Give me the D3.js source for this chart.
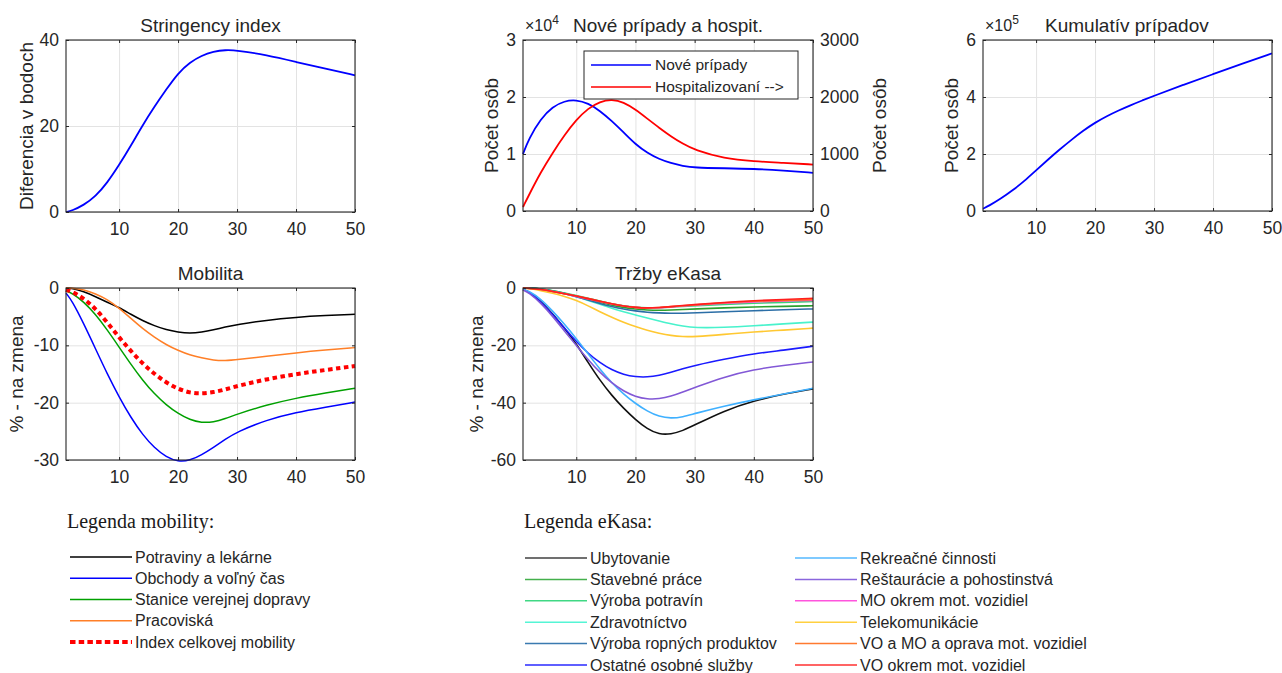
<!DOCTYPE html>
<html>
<head>
<meta charset="utf-8">
<script src="https://cdn.jsdelivr.net/npm/d3@7"></script>
</head>
<body style='margin: 0; background-color: #ffffff;'>

<svg id='chart'></svg>

<script>
// common day grid for every series
var days = [1, 2, 4, 6, 8, 10, 12, 14, 16, 18, 20, 22, 24, 26, 28, 30, 35, 40, 45, 50];
var xTicks = [10, 20, 30, 40, 50];

var stringency = [0, 0.3, 1.6, 3.6, 6.8, 10.9, 15.4, 20.2, 24.5, 28.5, 32.3, 34.8, 36.4, 37.3, 37.7, 37.6, 36.5, 34.9, 33.3, 31.8];

// x10^4
var novePripady = [1.0, 1.27, 1.62, 1.83, 1.93, 1.95, 1.89, 1.76, 1.58, 1.38, 1.17, 1.02, 0.91, 0.84, 0.79, 0.76, 0.75, 0.74, 0.71, 0.67];
var hospitalizovani = [70, 280, 680, 1020, 1330, 1600, 1800, 1920, 1960, 1910, 1780, 1620, 1460, 1310, 1180, 1070, 920, 870, 845, 815];

// x10^5
var kumulativ = [0.08, 0.18, 0.43, 0.72, 1.05, 1.43, 1.8, 2.16, 2.5, 2.82, 3.1, 3.33, 3.53, 3.71, 3.88, 4.04, 4.43, 4.8, 5.17, 5.53];

var mobPotraviny = [0, -0.05, -0.6, -1.5, -2.5, -3.4, -4.6, -5.7, -6.6, -7.3, -7.7, -7.9, -7.7, -7.3, -6.8, -6.4, -5.6, -5.1, -4.8, -4.6];
var mobObchody = [-0.9, -2.2, -6.2, -10.6, -15, -19, -22.6, -25.6, -27.9, -29.5, -30.3, -30.1, -29.1, -27.8, -26.4, -25.1, -23, -21.7, -20.8, -19.9];
var mobStanice = [-0.5, -0.9, -2.4, -4.6, -7.3, -10.3, -13.3, -16.1, -18.5, -20.4, -21.9, -23, -23.5, -23.4, -22.8, -22, -20.4, -19.2, -18.3, -17.5];
var mobPracoviska = [0, 0, -0.3, -1.0, -2.0, -3.5, -5.3, -7.1, -8.6, -9.9, -10.9, -11.7, -12.2, -12.6, -12.7, -12.5, -11.9, -11.3, -10.8, -10.4];
var mobIndex = [-0.3, -0.6, -1.8, -3.6, -6, -8.6, -11, -13.2, -15, -16.5, -17.6, -18.3, -18.4, -18.2, -17.7, -17.1, -15.9, -15, -14.3, -13.6];

var mobNames = ['Potraviny a lekárne', 'Obchody a voľný čas', 'Stanice verejnej dopravy', 'Pracoviská', 'Index celkovej mobility'];
var mobColors = ['#000000', '#0000ff', '#00a000', '#ff7f27', '#ff0000'];

var kUbytovanie = [-0.5, -1.2, -4.5, -9, -14, -19.4, -26, -32.2, -37.5, -42, -45.9, -49.2, -51.1, -51, -49.8, -47.8, -42.8, -39.3, -37, -35.2];
var kStavebne = [0, 0, -0.3, -0.9, -1.8, -2.8, -3.9, -5, -6, -6.8, -7.4, -7.7, -7.8, -7.7, -7.5, -7.3, -6.9, -6.6, -6.4, -6.2];
var kPotraviny = [0, 0, -0.3, -0.9, -1.7, -2.6, -3.6, -4.6, -5.5, -6.2, -6.7, -6.9, -6.9, -6.7, -6.4, -6.2, -5.7, -5.3, -5, -4.7];
var kZdravotnictvo = [0, -0.1, -0.6, -1.2, -2, -3, -4.3, -5.7, -7.1, -8.3, -9.4, -10.5, -11.5, -12.5, -13.3, -13.9, -13.8, -13.2, -12.5, -11.9];
var kRopne = [0, 0, -0.3, -1, -1.9, -3, -4.2, -5.4, -6.5, -7.4, -8, -8.5, -8.7, -8.8, -8.8, -8.7, -8.3, -7.9, -7.6, -7.3];
var kOstatne = [-0.5, -1.3, -4.8, -9.2, -14, -18.7, -22.8, -26.1, -28.6, -30.2, -31, -31.1, -30.5, -29.4, -28.2, -27, -24.8, -22.9, -21.7, -20.3];
var kRekreacne = [-0.5, -1.0, -3.8, -8, -12.6, -17.6, -23, -28.3, -33.1, -37, -40.3, -43, -44.9, -45.5, -45, -43.8, -41.2, -39, -37, -35];
var kRestauracie = [-0.7, -1.6, -5.2, -9.8, -15, -20, -25, -29.5, -33.2, -36, -37.9, -38.8, -38.7, -37.8, -36.3, -34.7, -31, -28.4, -27, -25.8];
var kMO = [0, -0.1, -0.5, -1.2, -2, -2.9, -3.8, -4.7, -5.6, -6.3, -6.8, -7, -6.9, -6.6, -6.3, -6, -5.3, -4.8, -4.5, -4.3];
var kTelekom = [0, -0.2, -0.9, -1.8, -2.9, -4.3, -6.2, -8.3, -10.2, -12, -13.5, -14.8, -15.8, -16.6, -17, -17, -16.2, -15.3, -14.7, -14];
var kVOMO = [0, -0.1, -0.5, -1.2, -2, -2.8, -3.7, -4.6, -5.5, -6.3, -6.8, -7, -6.8, -6.5, -6.2, -5.9, -5.1, -4.6, -4.3, -4.0];
var kVO = [0, -0.1, -0.5, -1.2, -2, -2.8, -3.7, -4.6, -5.5, -6.3, -6.8, -7, -6.8, -6.5, -6.1, -5.8, -5, -4.4, -4, -3.6];

var kasaNames = ['Ubytovanie', 'Stavebné práce', 'Výroba potravín', 'Zdravotníctvo', 'Výroba ropných produktov', 'Ostatné osobné služby',
	'Rekreačné činnosti', 'Reštaurácie a pohostinstvá', 'MO okrem mot. vozidiel', 'Telekomunikácie', 'VO a MO a oprava mot. vozidiel', 'VO okrem mot. vozidiel'];
var kasaColors = ['#101010', '#2ca02c', '#3cd27a', '#48f2cc', '#2b6ea6', '#1a1aff',
	'#3fb0ff', '#8258d6', '#ff45d6', '#ffc832', '#ff7022', '#ff1e1e'];
var kasaLegendColors = ['#404040', '#44b04c', '#40d884', '#55f5d5', '#3a7ab0', '#2a2aff',
	'#55b8ff', '#8a66dd', '#ff55dd', '#ffd040', '#ff7a30', '#ff3030'];

var font = "'Liberation Sans', Arial, sans-serif";
var ink = '#262626';

var dims = {
	width: 1282,
	height: 673,
	tickFont: 17.5,
	labelFont: 19
};

var panels = {
	stringency: { left: 66, top: 40, width: 289, height: 172, yDomain: [0, 40], yTicks: [0, 20, 40],
		title: 'Stringency index', ylabel: 'Diferencia v bodoch', ylabelX: -33 },
	nove: { left: 523, top: 40, width: 290, height: 171, yDomain: [0, 3], yTicks: [0, 1, 2, 3],
		title: 'Nové prípady a hospit.', ylabel: 'Počet osôb', ylabelX: -25, titleX: 50 },
	kumul: { left: 983, top: 40, width: 289, height: 171, yDomain: [0, 6], yTicks: [0, 2, 4, 6],
		title: 'Kumulatív prípadov', ylabel: 'Počet osôb', ylabelX: -25, titleX: 62 },
	mobilita: { left: 66, top: 288, width: 289, height: 172, yDomain: [-30, 0], yTicks: [-30, -20, -10, 0],
		title: 'Mobilita', ylabel: '% - na zmena', ylabelX: -43 },
	kasa: { left: 523, top: 288, width: 290, height: 172, yDomain: [-60, 0], yTicks: [-60, -40, -20, 0],
		title: 'Tržby eKasa', ylabel: '% - na zmena', ylabelX: -40 }
};

var svg = d3.select('#chart')
	.attr('width', dims.width)
	.attr('height', dims.height)
	.style('font-family', font);

var plain = d => String(d);

function styleAxis(a) {
	a.select('.domain').remove();
	a.selectAll('line').attr('stroke', ink);
	a.selectAll('text')
		.attr('fill', ink)
		.style('font-family', font)
		.style('font-size', dims.tickFont + 'px');
}

function createPanel(p) {
	var g = svg.append('g')
		.attr('transform', 'translate(' + p.left + ' ' + p.top + ')');
	var x = d3.scaleLinear().domain([1, 50]).range([0, p.width]);
	var y = d3.scaleLinear().domain(p.yDomain).range([p.height, 0]);

	// grid
	g.append('g')
		.attr('transform', 'translate(0 ' + p.height + ')')
		.call(d3.axisBottom(x).tickValues(xTicks).tickSize(-p.height).tickFormat(''))
		.call(a => a.select('.domain').remove())
		.selectAll('line').attr('stroke', '#e3e3e3');
	g.append('g')
		.call(d3.axisLeft(y).tickValues(p.yTicks).tickSize(-p.width).tickFormat(''))
		.call(a => a.select('.domain').remove())
		.selectAll('line').attr('stroke', '#e3e3e3');

	var lines = g.append('g');
	var top = g.append('g');

	top.append('g')
		.attr('transform', 'translate(0 ' + p.height + ')')
		.call(d3.axisBottom(x).tickValues(xTicks).tickSize(-3).tickPadding(11).tickFormat(plain))
		.call(styleAxis);
	top.append('g')
		.call(d3.axisTop(x).tickValues(xTicks).tickSize(-3).tickFormat(''))
		.call(styleAxis);
	top.append('g')
		.call(d3.axisLeft(y).tickValues(p.yTicks).tickSize(-3).tickPadding(7).tickFormat(plain))
		.call(styleAxis);
	if (!p.rightAxis) {
		top.append('g')
			.attr('transform', 'translate(' + p.width + ' 0)')
			.call(d3.axisRight(y).tickValues(p.yTicks).tickSize(-3).tickFormat(''))
			.call(styleAxis);
	}
	top.append('rect')
		.attr('width', p.width)
		.attr('height', p.height)
		.attr('fill', 'none')
		.attr('stroke', ink)
		.attr('stroke-width', 1.1);

	g.append('text')
		.attr('x', p.titleX !== undefined ? p.titleX : p.width / 2)
		.attr('y', -8)
		.attr('text-anchor', p.titleX !== undefined ? 'start' : 'middle')
		.attr('fill', ink)
		.style('font-size', dims.labelFont + 'px')
		.text(p.title);

	g.append('text')
		.attr('transform', 'translate(' + p.ylabelX + ' ' + (p.height / 2) + ') rotate(-90)')
		.attr('text-anchor', 'middle')
		.attr('fill', ink)
		.style('font-size', dims.labelFont + 'px')
		.text(p.ylabel);

	return { g: g, lines: lines, top: top, x: x, y: y };
}

function drawLine(panel, values, color, width, yScale) {
	var ys = yScale || panel.y;
	var line = d3.line()
		.x((d, i) => panel.x(days[i]))
		.y(d => ys(d))
		.curve(d3.curveBasis);
	return panel.lines.append('path')
		.datum(values)
		.attr('d', line)
		.attr('fill', 'none')
		.attr('stroke', color)
		.attr('stroke-width', width)
		.attr('stroke-linejoin', 'round');
}

function addExponent(panel, x, exp) {
	var t = panel.g.append('text')
		.attr('x', x)
		.attr('y', -9)
		.attr('fill', ink)
		.style('font-size', '16px');
	t.append('tspan').text('×10');
	t.append('tspan')
		.attr('dy', -7)
		.style('font-size', '12px')
		.text(exp);
}

// --- Stringency index
var p1 = createPanel(panels.stringency);
drawLine(p1, stringency, '#0000ff', 1.8);

// --- Nove pripady a hospit.
panels.nove.rightAxis = true;
var p2 = createPanel(panels.nove);
var yRight = d3.scaleLinear().domain([0, 3000]).range([panels.nove.height, 0]);
p2.top.append('g')
	.attr('transform', 'translate(' + panels.nove.width + ' 0)')
	.call(d3.axisRight(yRight).tickValues([0, 1000, 2000, 3000]).tickSize(-3).tickPadding(7).tickFormat(plain))
	.call(styleAxis);
p2.g.append('text')
	.attr('transform', 'translate(' + (panels.nove.width + 73) + ' ' + (panels.nove.height / 2) + ') rotate(-90)')
	.attr('text-anchor', 'middle')
	.attr('fill', ink)
	.style('font-size', dims.labelFont + 'px')
	.text('Počet osôb');
drawLine(p2, novePripady, '#0000ff', 1.8);
drawLine(p2, hospitalizovani, '#ff0000', 1.8, yRight);
addExponent(p2, 2, '4');

var leg2 = p2.top.append('g').attr('transform', 'translate(61 11)');
leg2.append('rect')
	.attr('width', 214)
	.attr('height', 48)
	.attr('fill', '#ffffff')
	.attr('stroke', ink)
	.attr('stroke-width', 1);
[['Nové prípady', '#0000ff'], ['Hospitalizovaní -->', '#ff0000']].forEach(function(e, i) {
	var yy = 14 + i * 22;
	leg2.append('line')
		.attr('x1', 7).attr('x2', 67)
		.attr('y1', yy).attr('y2', yy)
		.attr('stroke', e[1])
		.attr('stroke-width', 1.6);
	leg2.append('text')
		.attr('x', 71)
		.attr('y', yy)
		.attr('dy', '0.35em')
		.attr('fill', ink)
		.style('font-size', '15.5px')
		.text(e[0]);
});

// --- Kumulativ
var p3 = createPanel(panels.kumul);
drawLine(p3, kumulativ, '#0000ff', 1.8);
addExponent(p3, 2, '5');

// --- Mobilita
var p4 = createPanel(panels.mobilita);
var mobSeries = [mobPotraviny, mobObchody, mobStanice, mobPracoviska, mobIndex];
mobSeries.forEach(function(s, i) {
	var path = drawLine(p4, s, mobColors[i], i == 4 ? 4 : 1.5);
	if (i == 4) path.attr('stroke-dasharray', '4.5,3.5');
});

// --- Trzby eKasa
var p5 = createPanel(panels.kasa);
var kasaSeries = [kUbytovanie, kStavebne, kPotraviny, kZdravotnictvo, kRopne, kOstatne,
	kRekreacne, kRestauracie, kMO, kTelekom, kVOMO, kVO];
kasaSeries.forEach(function(s, i) {
	drawLine(p5, s, kasaColors[i], 1.6);
});

// --- legends below
function legendTitle(x, y, text) {
	svg.append('text')
		.attr('x', x)
		.attr('y', y)
		.attr('fill', '#1a1a1a')
		.style('font-family', "'Liberation Serif', 'Times New Roman', serif")
		.style('font-size', '20px')
		.text(text);
}

legendTitle(67, 528, 'Legenda mobility:');
var mobRows = d3.scalePoint().domain(mobNames).range([557, 642]);
mobNames.forEach(function(n, i) {
	var yy = mobRows(n);
	svg.append('line')
		.attr('x1', 70).attr('x2', 132)
		.attr('y1', yy).attr('y2', yy)
		.attr('stroke', mobColors[i])
		.attr('stroke-width', i == 4 ? 4 : 1.3)
		.attr('stroke-dasharray', i == 4 ? '5.5,3.2' : null);
	svg.append('text')
		.attr('x', 135)
		.attr('y', yy)
		.attr('dy', '0.35em')
		.attr('fill', ink)
		.style('font-size', '16px')
		.text(n);
});

legendTitle(524, 528, 'Legenda eKasa:');
var kasaRows = d3.scalePoint().domain(d3.range(6)).range([558, 665]);
kasaNames.forEach(function(n, i) {
	var col = Math.floor(i / 6);
	var yy = kasaRows(i % 6);
	var x0 = col == 0 ? 525 : 795;
	svg.append('line')
		.attr('x1', x0).attr('x2', x0 + 62)
		.attr('y1', yy).attr('y2', yy)
		.attr('stroke', kasaLegendColors[i])
		.attr('stroke-width', 1.5);
	svg.append('text')
		.attr('x', x0 + 65)
		.attr('y', yy)
		.attr('dy', '0.35em')
		.attr('fill', ink)
		.style('font-size', '16px')
		.text(n);
});
</script>

</body>
</html>
